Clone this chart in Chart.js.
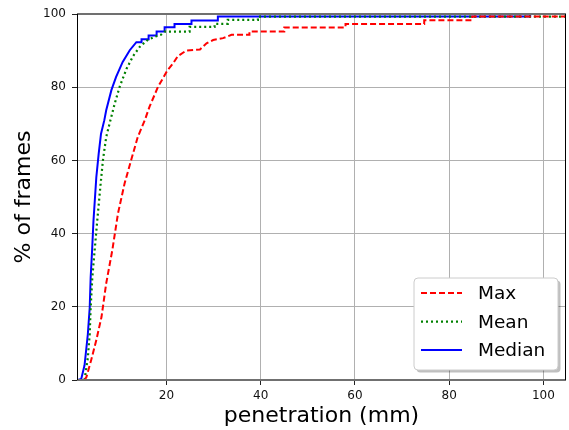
<!DOCTYPE html>
<html>
<head>
<meta charset="utf-8">
<script src="https://cdn.jsdelivr.net/npm/chart.js@4.4.1/dist/chart.umd.min.js"></script>
<style>
  html, body { margin: 0; padding: 0; background: #fff; }
  #wrap { width: 569px; height: 430px; position: relative; }
</style>
</head>
<body>
<div id="wrap"><canvas id="cdf"></canvas></div>
<script>
// ---------- Data ----------
const labels = ["Max", "Mean", "Median"];
const xTicks = [20, 40, 60, 80, 100];
const yTicks = [0, 20, 40, 60, 80, 100];

// penetration (mm) / % of frames
const maxX = [2.6, 3.0, 4.0, 5.1, 6.2, 7.2, 8.5, 9.7, 11.1, 12.5, 13.9, 15.4, 16.4, 18.2, 20.2, 21.4, 22.4, 24.2, 27.1, 28.5, 29.9, 32.0, 33.8, 37.6, 37.6, 45.0, 45.0, 58.0, 58.0, 74.7, 74.7, 84.9, 84.9, 105];
const maxY = [0, 0.8, 5.4, 10.9, 17.2, 26.4, 35.5, 45.5, 53.7, 60.1, 66.4, 71.0, 74.7, 80.1, 84.6, 86.5, 88.5, 90.0, 90.3, 92.0, 92.9, 93.4, 94.3, 94.3, 95.2, 95.2, 96.3, 96.3, 97.3, 97.3, 98.3, 98.3, 99.3, 99.3];

const meanX = [2.6, 3.3, 3.7, 3.9, 4.25, 4.75, 5.3, 5.95, 6.5, 7.2, 8.0, 9.0, 10.05, 11.5, 12.9, 14.3, 15.9, 17.5, 18.9, 19.6, 24.9, 24.9, 30.2, 30.2, 33.0, 33.0, 39.4, 39.4, 105];
const meanY = [0, 6.1, 12.6, 19.8, 28, 35.5, 43.6, 52.7, 60, 66.4, 70.5, 75.5, 80.1, 85.0, 88.5, 91.0, 92.8, 93.8, 94.4, 95.2, 95.2, 96.5, 96.5, 97.3, 97.3, 98.4, 98.4, 99.3, 99.3];

const medianX = [1.2, 1.9, 2.6, 3.3, 3.7, 3.9, 4.2, 4.5, 5.1, 5.6, 6.1, 6.8, 7.2, 8.3, 9.3, 10.7, 12.2, 13.6, 14.7, 14.7, 16.2, 16.2, 17.9, 17.9, 19.6, 19.6, 21.7, 21.7, 25.3, 25.3, 30.9, 30.9, 97.2, 97.2, 105];
const medianY = [0, 0.3, 4.0, 12.5, 19.8, 28, 35.3, 43.6, 55.4, 61.8, 67.3, 71, 73.7, 79.2, 82.8, 86.9, 90.1, 92.3, 92.3, 93.1, 93.1, 94.1, 94.1, 95.2, 95.2, 96.4, 96.4, 97.3, 97.3, 98.2, 98.2, 99.3, 99.3, 100, 100];

const xMin = 1.0, xMax = 104.8;

function pts(xs, ys) {
  return xs.map((x, i) => ({ x: x, y: ys[i] }));
}

Chart.defaults.font.family = "'DejaVu Sans', sans-serif";

// ---------- Frame + legend drawn on top ----------
const frame = {
  id: "frame",
  afterDatasetsDraw(chart) {
    const { ctx, chartArea: a } = chart;
    ctx.save();
    ctx.strokeStyle = "#707070";
    ctx.lineWidth = 2;
    ctx.beginPath();
    ctx.moveTo(a.left, a.top); ctx.lineTo(a.right, a.top);
    ctx.moveTo(a.left, a.bottom); ctx.lineTo(a.right, a.bottom);
    ctx.stroke();
    ctx.strokeStyle = "#000";
    ctx.lineWidth = 1;
    ctx.beginPath();
    ctx.moveTo(a.left + 0.5, a.top); ctx.lineTo(a.left + 0.5, a.bottom);
    ctx.moveTo(a.right - 0.5, a.top); ctx.lineTo(a.right - 0.5, a.bottom);
    ctx.stroke();
    ctx.restore();
  },
};

function roundRect(ctx, x, y, w, h, r) {
  ctx.beginPath();
  ctx.moveTo(x + r, y);
  ctx.arcTo(x + w, y, x + w, y + h, r);
  ctx.arcTo(x + w, y + h, x, y + h, r);
  ctx.arcTo(x, y + h, x, y, r);
  ctx.arcTo(x, y, x + w, y, r);
  ctx.closePath();
}

const legendBox = {
  id: "legendBox",
  afterDraw(chart) {
    const { ctx, chartArea: a } = chart;
    const w = 144, h = 92;
    const x = a.right - 8 - w, y = a.bottom - 10 - h;
    ctx.save();
    roundRect(ctx, x + 2.5, y + 2.5, w, h, 4);
    ctx.fillStyle = "rgba(0,0,0,0.25)";
    ctx.fill();
    roundRect(ctx, x, y, w, h, 4);
    ctx.fillStyle = "#fff";
    ctx.fill();
    ctx.strokeStyle = "#cccccc";
    ctx.lineWidth = 1;
    ctx.stroke();
    const rows = [15, 43.7, 72];
    chart.data.datasets.forEach((ds, i) => {
      const ry = y + rows[i];
      ctx.strokeStyle = ds.borderColor;
      ctx.lineWidth = ds.borderWidth;
      ctx.setLineDash(ds.borderDash || []);
      ctx.beginPath();
      ctx.moveTo(x + 7, ry);
      ctx.lineTo(x + 48, ry);
      ctx.stroke();
      ctx.setLineDash([]);
      ctx.fillStyle = "#000";
      ctx.font = "18.5px 'DejaVu Sans'";
      ctx.textBaseline = "middle";
      ctx.textAlign = "left";
      ctx.fillText(ds.label, x + 64, ry + 1);
    });
    ctx.restore();
  },
};

// ---------- Chart ----------
const chart = new Chart(document.getElementById("cdf"), {
  type: "line",
  data: {
    datasets: [
      { label: labels[0], data: pts(maxX, maxY), borderColor: "#ff0000", borderWidth: 2, borderDash: [6, 3] },
      { label: labels[1], data: pts(meanX, meanY), borderColor: "#008000", borderWidth: 2.2, borderDash: [2, 3] },
      { label: labels[2], data: pts(medianX, medianY), borderColor: "#0000ff", borderWidth: 2 },
    ],
  },
  options: {
    responsive: true,
    maintainAspectRatio: false,
    animation: false,
    devicePixelRatio: 1,
    layout: { padding: { top: 14, right: 3, left: 0, bottom: 0 } },
    elements: { point: { radius: 0 }, line: { tension: 0, fill: false } },
    plugins: { legend: { display: false }, tooltip: { enabled: false } },
    scales: {
      x: {
        type: "linear",
        min: xMin,
        max: xMax,
        afterBuildTicks: (s) => { s.ticks = xTicks.map((v) => ({ value: v })); },
        afterFit: (s) => { s.height = 50; },
        grid: { color: "#b0b0b0", lineWidth: 1, tickLength: 5, tickColor: "#222" },
        border: { display: false },
        ticks: { color: "#111", font: { size: 12 }, padding: 4, maxRotation: 0 },
        title: { display: true, text: "penetration (mm)", color: "#000", font: { size: 22 }, padding: { top: 0, bottom: 1 } },
      },
      y: {
        type: "linear",
        min: 0,
        max: 100,
        afterBuildTicks: (s) => { s.ticks = yTicks.map((v) => ({ value: v })); },
        afterFit: (s) => { s.width = 77; },
        grid: { color: "#b0b0b0", lineWidth: 1, tickLength: 5, tickColor: "#222" },
        border: { display: false },
        ticks: { color: "#111", font: { size: 12 }, padding: 6 },
        title: { display: true, text: "% of frames", color: "#000", font: { size: 22 }, padding: { top: 11, bottom: 0 } },
      },
    },
  },
  plugins: [frame, legendBox],
});
</script>
</body>
</html>
